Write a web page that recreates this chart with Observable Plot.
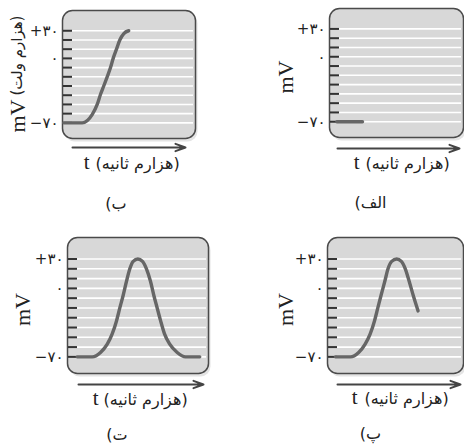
<!DOCTYPE html>
<html><head><meta charset="utf-8">
<script src="https://cdn.jsdelivr.net/npm/d3@7"></script>
<script src="https://cdn.jsdelivr.net/npm/@observablehq/plot@0.6"></script>
<style>
body{margin:0;background:#fff;}
#wrap{position:relative;width:464px;height:444px;overflow:hidden;background:#fff;}
#wrap svg{position:absolute;}
</style></head><body><div id="wrap"></div>
<script>
// ---- data ----
const gridValues = [-70, -60, -50, -40, -30, -20, -10, 0, 10, 20, 30];
const labelValues = [30, 0, -70];
const labelTexts = ["+۳۰", "۰", "−۷۰"];
const yUnit = "mV";
const yUnitLong = "(هزارم ولت)";
const xUnit = "t";
const xUnitLong = "(هزارم ثانیه)";
const panelNames = ["الف)", "ب)", "پ)", "ت)"];

const timeA = [0.55, 2.46];
const voltA = [-70, -70];
const timeB = [0.1, 1.48, 2.23, 2.61, 2.86, 3.1, 3.36, 3.61, 3.81, 4.06, 4.31, 4.61, 4.98];
const voltB = [-70, -70, -61, -50, -39, -30, -20, -10, 0, 10, 20, 27, 30];
const timeP = [0.58, 1.68, 2.29, 2.77, 3.14, 3.46, 3.7, 3.94, 4.21, 4.45, 4.72, 5.09, 5.43, 5.72, 6.01, 6.3, 6.66];
const voltP = [-70, -70, -65.5, -57, -46.5, -33, -20, -7, 7, 20, 27.6, 30, 27.6, 20, 7, -7, -23];
const timeT = [0.69, 1.75, 2.34, 2.82, 3.17, 3.48, 3.71, 3.95, 4.18, 4.42, 4.66, 4.99, 5.32, 5.6, 5.89, 6.12, 6.36, 6.6, 6.88, 7.25, 7.78, 8.37, 9.38];
const voltT = [-70, -70, -65.5, -57, -46.5, -33, -20, -7, 7, 20, 27.6, 30, 27.6, 20, 7, -7, -20, -33, -46.5, -57, -65.5, -70, -70];

const xDomain = [0, 10];
const yDomain = [-87, 52];

// ---- layout ----
const W = 232, H = 222;
const panels = [
  {name: panelNames[0], time: timeA, volt: voltA, left: 232, top: 0, ml: 97, mr: 1, mt: 8, mb: 85,
   aS: 8, aE: 4, aDy: 11, tDx: 30, pDx: 36, tDy: 31, lDx: -26, lDy: 70, yDx: -44, yDy: 4, long: false},
  {name: panelNames[1], time: timeB, volt: voltB, left: 0, top: 0, ml: 62, mr: 37, mt: 10, mb: 84,
   aS: 10, aE: 10, aDy: 9, tDx: 27, pDx: 33, tDy: 30, lDx: -13, lDy: 70, yDx: -45, yDy: 4, long: true},
  {name: panelNames[2], time: timeP, volt: voltP, left: 232, top: 222, ml: 95, mr: 1, mt: 15, mb: 71,
   aS: 10, aE: 3, aDy: 11, tDx: 30, pDx: 37, tDy: 30, lDx: -25, lDy: 65, yDx: -42, yDy: 4, long: false},
  {name: panelNames[3], time: timeT, volt: voltT, left: 0, top: 222, ml: 67, mr: 24, mt: 15, mb: 71,
   aS: 11, aE: 5, aDy: 11, tDx: 31, pDx: 36, tDy: 31, lDx: -21, lDy: 66, yDx: -45, yDy: 4, long: false}
];

const serif = "Liberation Serif, DejaVu Serif, serif";
const sans = "DejaVu Sans, sans-serif";

const wrap = document.getElementById("wrap");
for (const p of panels) {
  const data = p.time.map((t, i) => ({t, v: p.volt[i]}));
  const plotW = W - p.ml - p.mr;
  const yMarks = p.long ? [
    Plot.text([yUnit], {frameAnchor: "left", rotate: -90, textAnchor: "start", dx: p.yDx, dy: 58, fontSize: 22, fontFamily: serif, fill: "#222"}),
    Plot.text([yUnitLong], {frameAnchor: "left", rotate: -90, textAnchor: "start", dx: p.yDx, dy: 21, fontSize: 15, fontFamily: sans, fill: "#222"})
  ] : [
    Plot.text([yUnit], {frameAnchor: "left", rotate: -90, textAnchor: "middle", dx: p.yDx, dy: p.yDy, fontSize: 22, fontFamily: serif, fill: "#222"})
  ];
  const chart = Plot.plot({
    width: W, height: H,
    marginLeft: p.ml, marginRight: p.mr, marginTop: p.mt, marginBottom: p.mb,
    x: {domain: xDomain, axis: null},
    y: {domain: yDomain, axis: null},
    style: {background: "transparent", overflow: "visible"},
    marks: [
      Plot.frame({fill: "#e4e4e4", stroke: "none", rx: 10, dx: 2, dy: 3}),
      Plot.frame({fill: "#d8d8d8", stroke: "#4a4a4a", strokeWidth: 1.5, rx: 10}),
      Plot.ruleY(gridValues, {stroke: "#ffffff", strokeWidth: 1.6, insetLeft: 9, insetRight: 2}),
      Plot.ruleY(gridValues, {stroke: "#333", strokeWidth: 2, insetLeft: 1, insetRight: plotW - 10}),
      Plot.line(data, {x: "t", y: "v", stroke: "#666", strokeWidth: 3.4, curve: "monotone-x"}),
      Plot.text(labelTexts, {y: (d, i) => labelValues[i], frameAnchor: "left", textAnchor: "end", dx: -4, fontSize: 15, fontFamily: sans, fill: "#222"}),
      Plot.arrow([0], {x1: () => xDomain[0], x2: () => xDomain[1], y: () => yDomain[0], dy: p.aDy,
        insetStart: p.aS, insetEnd: p.aE, stroke: "#444", strokeWidth: 2, headLength: 8, headAngle: 40}),
      Plot.text([xUnit], {frameAnchor: "bottom-left", textAnchor: "end", dx: p.tDx, dy: p.tDy, fontSize: 21, fontFamily: serif, fill: "#222"}),
      Plot.text([xUnitLong], {frameAnchor: "bottom-left", textAnchor: "start", dx: p.pDx, dy: p.tDy, fontSize: 16, fontFamily: sans, fill: "#222"}),
      Plot.text([p.name], {text: d => d + "\u200F", frameAnchor: "bottom", dx: p.lDx, dy: p.lDy, fontSize: 16, fontFamily: sans, fill: "#222"}),
      ...yMarks
    ]
  });
  chart.style.left = p.left + "px";
  chart.style.top = p.top + "px";
  wrap.appendChild(chart);
}
</script>
</body></html>
